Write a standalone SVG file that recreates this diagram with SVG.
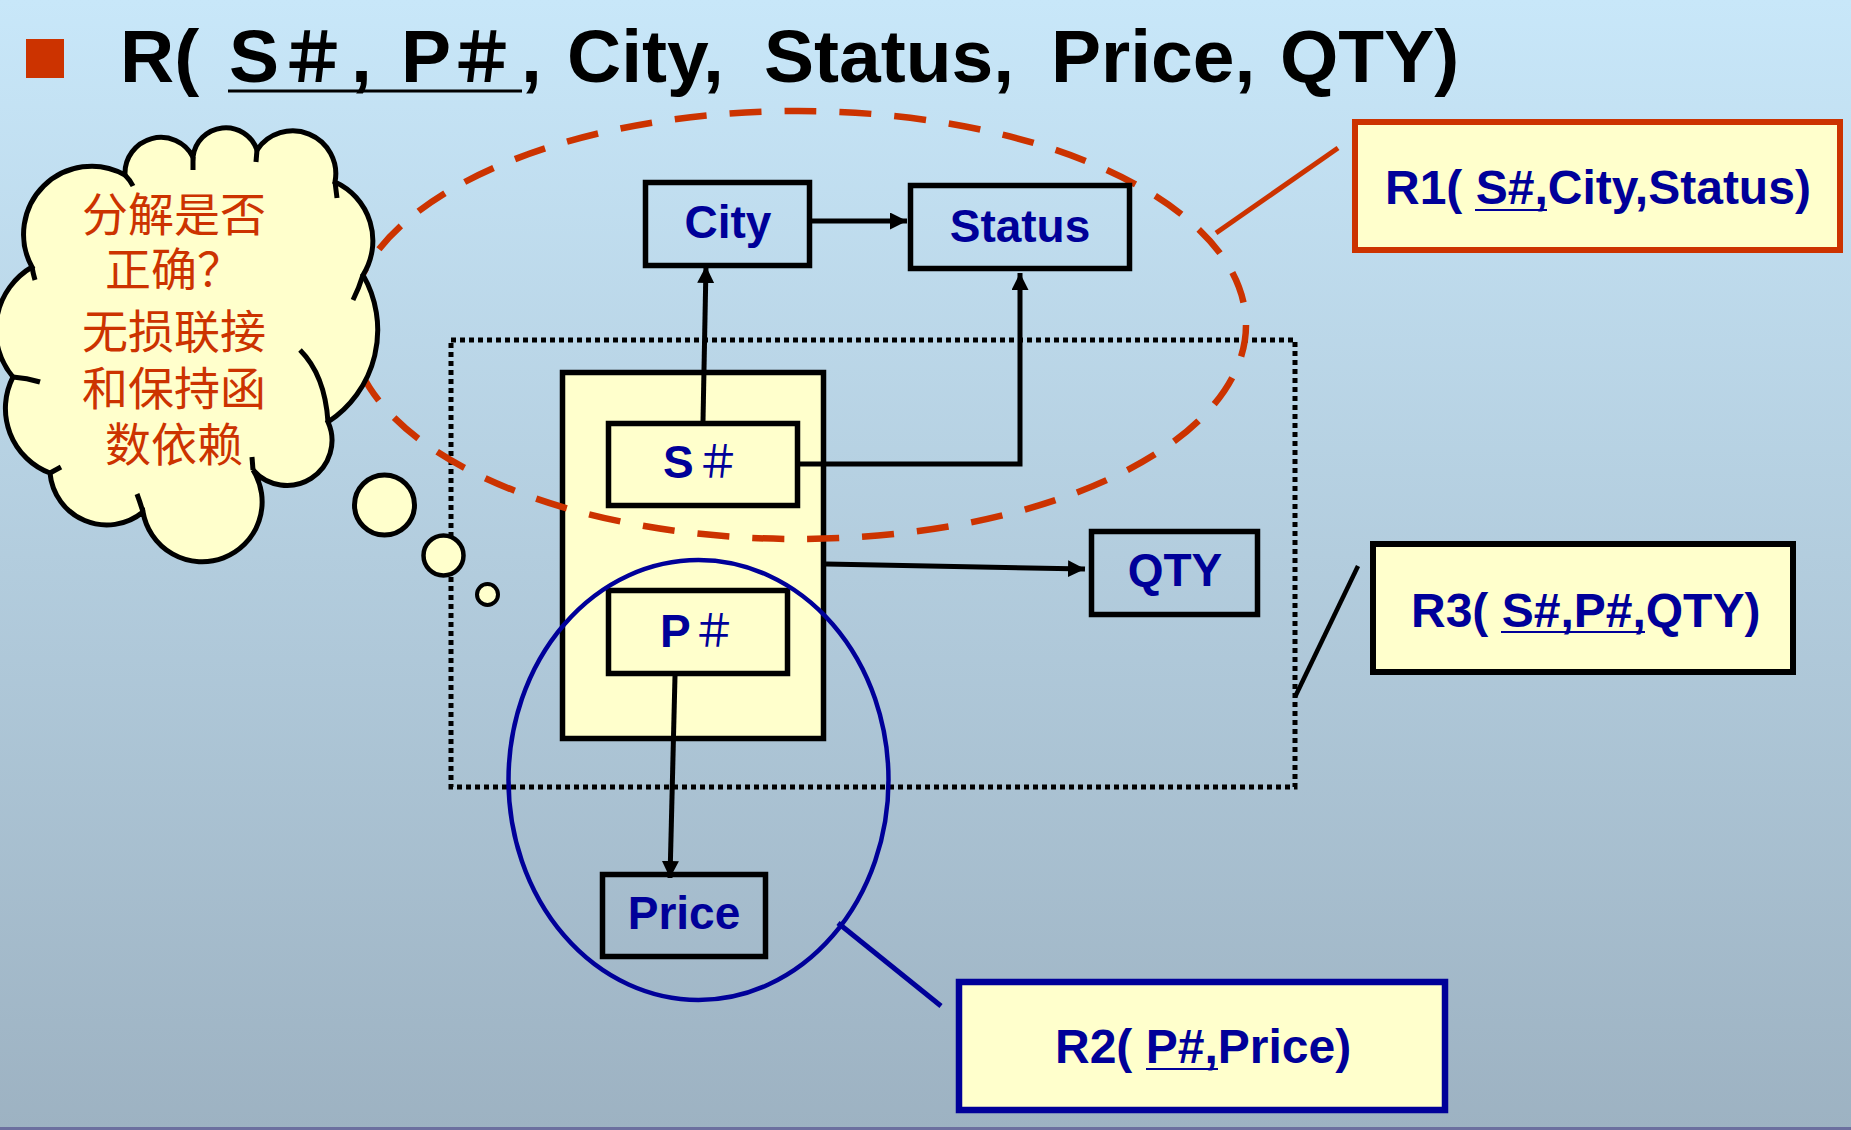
<svg xmlns="http://www.w3.org/2000/svg" width="1851" height="1130" viewBox="0 0 1851 1130">
<defs>
<linearGradient id="bg" x1="0" y1="0" x2="0" y2="1">
<stop offset="0" stop-color="#c8e7f9"/>
<stop offset="1" stop-color="#9db2c2"/>
</linearGradient>
<marker id="ah" markerUnits="userSpaceOnUse" markerWidth="18" markerHeight="18" refX="17" refY="8.5" orient="auto">
<path d="M0,0 L17,8.5 L0,17 z" fill="#000"/>
</marker>
<style>
.title{font-family:"Liberation Sans",Arial,sans-serif;font-weight:bold;font-size:75px;fill:#000}
.titlecjk{font-family:"Noto Sans CJK SC",sans-serif;font-weight:bold;font-size:68px;fill:#000}
.box{fill:none;stroke:#000;stroke-width:5.5}
.ybox{fill:#ffffcc;stroke:#000;stroke-width:5.5}
.lbl{font-family:"Liberation Sans",Arial,sans-serif;font-weight:bold;font-size:46px;fill:#000099}
.hash{font-family:"Noto Sans CJK SC",sans-serif;font-size:44px;fill:#000099}
.rel{font-family:"Liberation Sans",Arial,sans-serif;font-weight:bold;font-size:48px;fill:#000099}
.conn{fill:none;stroke:#000;stroke-width:5}
.cjk{font-family:"Liberation Serif","Noto Sans CJK SC",serif;font-size:46px;fill:#cc3300}
.cloud{fill:#ffffcc;stroke:#000;stroke-width:5}
</style>
</defs>
<rect x="0" y="0" width="1851" height="1130" fill="url(#bg)"/>
<rect x="0" y="1127" width="1851" height="3" fill="#6c6f9f"/>

<g id="title">
<rect x="26" y="39" width="38" height="39" fill="#cc3300"/>
<text class="title" x="120" y="82">R(</text>
<text class="title" x="229" y="82">S</text>
<text class="titlecjk" x="313" y="82" text-anchor="middle">＃</text>
<text class="title" x="351" y="82">,</text>
<text class="title" x="401" y="82">P</text>
<text class="titlecjk" x="482" y="82" text-anchor="middle">＃</text>
<text class="title" x="521" y="82">,</text>
<text class="title" x="567" y="82">City,</text>
<text class="title" x="764" y="82">Status,</text>
<text class="title" x="1051" y="82">Price,</text>
<text class="title" x="1280" y="82">QTY)</text>
<line x1="228" y1="91" x2="522" y2="91" stroke="#000" stroke-width="3"/>
</g>

<g id="dotted-box">
<rect x="451" y="340" width="844" height="447" fill="none" stroke="#000" stroke-width="5" stroke-dasharray="5 4"/>
</g>

<g id="key-box">
<rect class="ybox" x="562.5" y="372.5" width="261" height="366"/>
</g>

<g id="r1-ellipse">
<ellipse cx="798" cy="325" rx="448" ry="214" fill="none" stroke="#cc3300" stroke-width="6.5" stroke-dasharray="32 23"/>
</g>

<g id="connectors">
<path class="conn" d="M812,221 L907,221" marker-end="url(#ah)"/>
<path class="conn" d="M703,421 L706,266" marker-end="url(#ah)"/>
<path class="conn" d="M800,464 H1020 V273" marker-end="url(#ah)"/>
<path class="conn" d="M826,564 L1085,569" marker-end="url(#ah)"/>
<path class="conn" d="M675,676 L670,878" marker-end="url(#ah)"/>
<line x1="1216" y1="233" x2="1338" y2="148" stroke="#cc3300" stroke-width="5"/>
<line x1="1358" y1="566" x2="1295" y2="697" stroke="#000" stroke-width="4.5"/>
<line x1="838" y1="923" x2="941" y2="1006" stroke="#000099" stroke-width="5"/>
</g>

<g id="city">
<rect class="box" x="645.5" y="182.5" width="164" height="83"/>
<text class="lbl" x="728" y="238" text-anchor="middle">City</text>
</g>
<g id="status">
<rect class="box" x="910.5" y="185.5" width="219" height="83"/>
<text class="lbl" x="1020" y="242" text-anchor="middle">Status</text>
</g>
<g id="s-no">
<rect class="ybox" x="608.5" y="423.5" width="189" height="82"/>
<text class="lbl" x="663" y="478">S</text>
<text class="hash" x="718" y="478" text-anchor="middle">＃</text>
</g>
<g id="p-no">
<rect class="ybox" x="608.5" y="590.5" width="179" height="83"/>
<text class="lbl" x="660" y="647">P</text>
<text class="hash" x="714" y="647" text-anchor="middle">＃</text>
</g>
<g id="qty">
<rect class="box" x="1091.5" y="531.5" width="166" height="83"/>
<text class="lbl" x="1175" y="586" text-anchor="middle">QTY</text>
</g>
<g id="price">
<rect class="box" x="602.5" y="874.5" width="163" height="82"/>
<text class="lbl" x="684" y="929" text-anchor="middle">Price</text>
</g>

<g id="r2-ellipse">
<ellipse cx="698.5" cy="780" rx="190" ry="220" fill="none" stroke="#000099" stroke-width="4.5"/>
</g>

<g id="cloud">
<path class="cloud" d="M32,267 A68,68 0 0 1 125,175 A36,36 0 0 1 193,157 A33,33 0 0 1 257,150 A43,43 0 0 1 335,182 A64.5,64.5 0 0 1 363,275 A110,110 0 0 1 328,422 A45,45 0 0 1 253,470 A60,60 0 1 1 143,512 A57,57 0 0 1 50,473 A69,69 0 0 1 13,377 A73,73 0 0 1 32,267 Z"/>
<g fill="none" stroke="#000" stroke-width="5">
<path d="M32,267 Q33,273 35,280"/>
<path d="M125,175 Q130,180 133,186"/>
<path d="M193,157 L193,170"/>
<path d="M257,150 L256,162"/>
<path d="M335,182 L337,198"/>
<path d="M363,275 Q359,288 353,300"/>
<path d="M300,350 Q325,375 328,422"/>
<path d="M253,470 L252,457"/>
<path d="M143,512 Q140,502 137,494"/>
<path d="M50,473 L61,467"/>
<path d="M13,377 Q27,378 40,382"/>
</g>
<text class="cjk" text-anchor="middle"><tspan x="174" y="231">分解是否</tspan><tspan x="174" y="286">正确？</tspan><tspan x="174" y="348">无损联接</tspan><tspan x="174" y="405">和保持函</tspan><tspan x="174" y="461">数依赖</tspan></text>
</g>
<g id="thought-bubbles">
<circle cx="384.5" cy="505" r="30" fill="#ffffcc" stroke="#000" stroke-width="5"/>
<circle cx="443.5" cy="555.5" r="20" fill="#ffffcc" stroke="#000" stroke-width="4.5"/>
<circle cx="487.5" cy="594.5" r="10.5" fill="#ffffcc" stroke="#000" stroke-width="4"/>
</g>

<g id="r1">
<rect x="1355" y="122" width="485" height="128" fill="#ffffcc" stroke="#cc3300" stroke-width="6"/>
<text class="rel" x="1385" y="204">R1( S#,City,Status)</text>
<line x1="1475" y1="210" x2="1547" y2="210" stroke="#000099" stroke-width="2"/>
</g>
<g id="r3">
<rect x="1373" y="544" width="420" height="128" fill="#ffffcc" stroke="#000" stroke-width="6"/>
<text class="rel" x="1411" y="627">R3( S#,P#,QTY)</text>
<line x1="1501" y1="632" x2="1645" y2="632" stroke="#000099" stroke-width="2"/>
</g>
<g id="r2">
<rect x="959" y="982" width="486" height="128" fill="#ffffcc" stroke="#000099" stroke-width="6.5"/>
<text class="rel" x="1055" y="1063">R2( P#,Price)</text>
<line x1="1146" y1="1069" x2="1218" y2="1069" stroke="#000099" stroke-width="2"/>
</g>
</svg>
